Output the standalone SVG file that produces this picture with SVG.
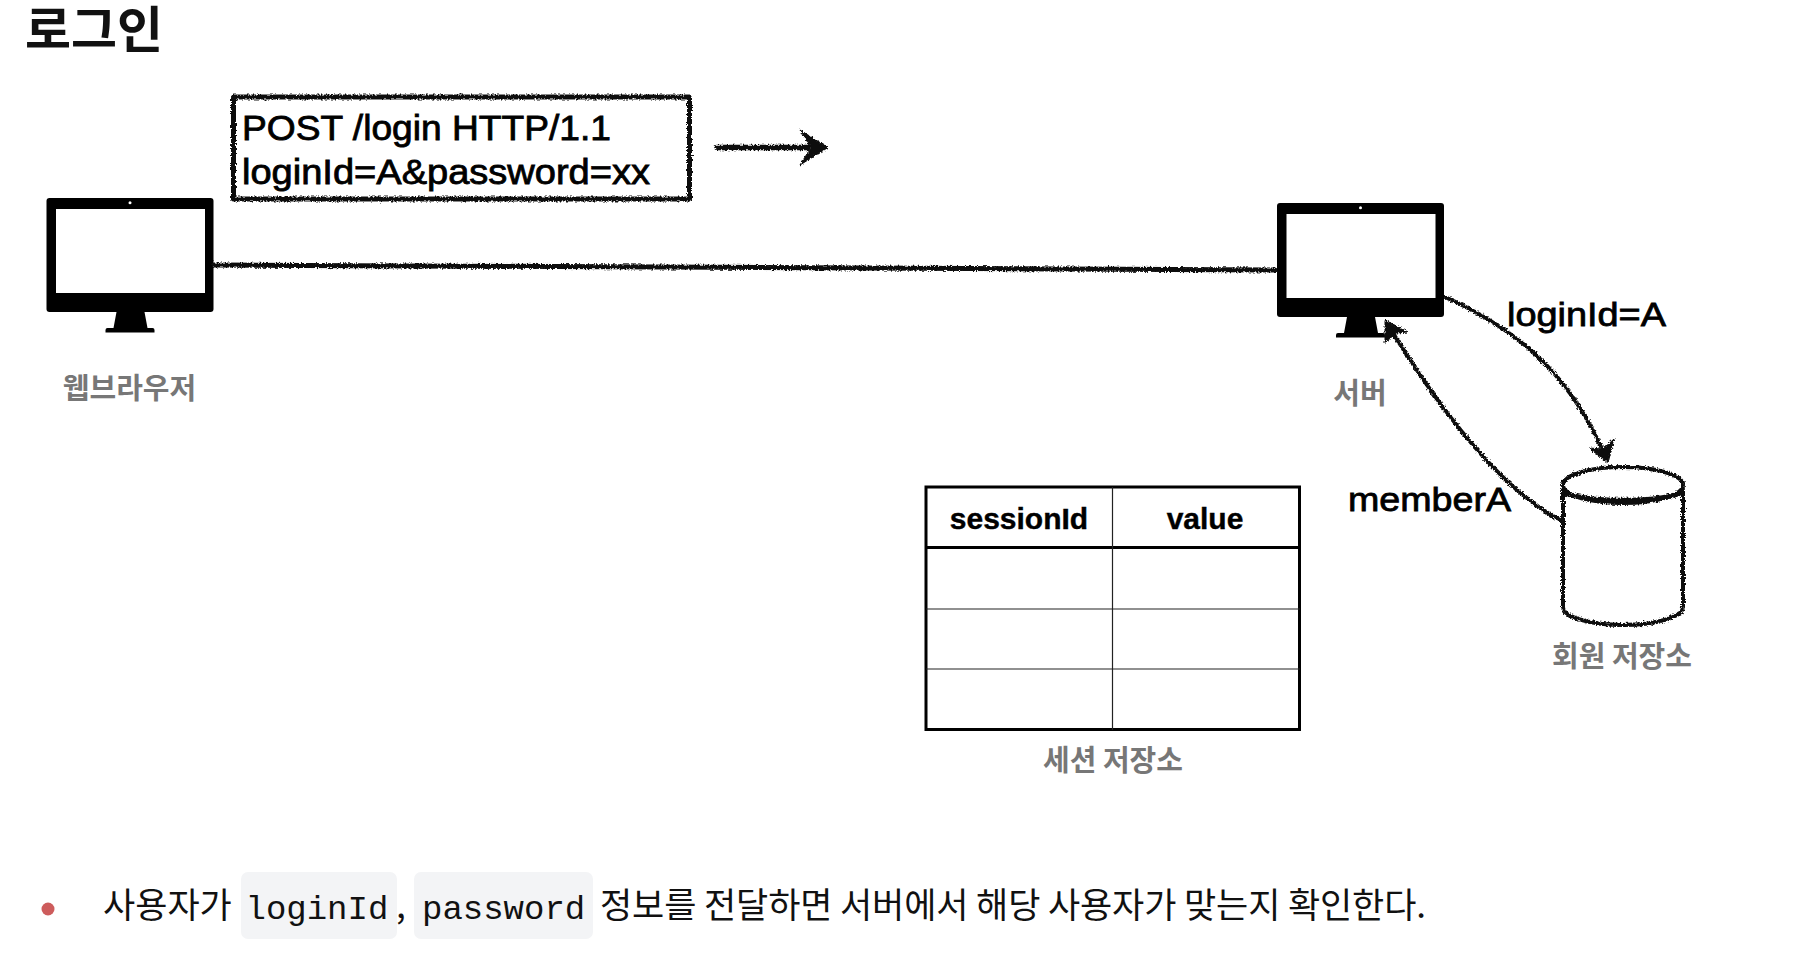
<svg xmlns="http://www.w3.org/2000/svg" width="1796" height="974" viewBox="0 0 1796 974">
<style>
.ko{font-family:"Noto Sans CJK KR","Noto Sans",sans-serif}
.lat{font-family:"Liberation Sans",Arial,sans-serif;fill:#000;stroke:#000;stroke-width:.8}
.cap{font-family:"Noto Sans CJK KR",sans-serif;font-weight:700;font-size:29px;fill:#777;text-anchor:middle}
.body{font-family:"Noto Sans CJK KR",sans-serif;font-size:35px;fill:#111}
.mono{font-family:"Liberation Mono",monospace;font-size:34px;fill:#111}
.chip{fill:#f3f4f6}
.sk{fill:none;stroke:#111;stroke-linecap:round;stroke-linejoin:round}
.hd{fill:#111;stroke:#111;stroke-width:1}
.th{font-family:"Liberation Sans",Arial,sans-serif;font-weight:700;font-size:30px;text-anchor:middle;fill:#000;stroke:#000;stroke-width:.4}
</style>
<defs>
<filter id="rough" filterUnits="userSpaceOnUse" x="0" y="0" width="1796" height="974">
<feTurbulence type="fractalNoise" baseFrequency="0.6" numOctaves="2" seed="3" result="n"/>
<feDisplacementMap in="SourceGraphic" in2="n" scale="4.500" xChannelSelector="R" yChannelSelector="G"/>
</filter>
<g id="monitor">
<rect x="0" y="0" width="167" height="114" rx="3" fill="#000"/>
<rect x="9.500" y="11" width="149" height="84" fill="#fff"/>
<circle cx="83.500" cy="4.800" r="1.500" fill="#fff"/>
<path d="M70 114H98L101 130H106Q108 130 108 132V134.500H59V132Q59 130 61 130H67Z" fill="#000"/>
</g>
</defs>
<rect width="1796" height="974" fill="#fff"/>

<text id="title" class="ko" x="25" y="48" font-size="50" font-weight="700" fill="#111">로그인</text>

<g id="request-label">
<rect x="233.500" y="97" width="456" height="102" class="sk" stroke-width="5" filter="url(#rough)"/>
<text class="lat" font-size="35" x="242" y="140" textLength="369" lengthAdjust="spacingAndGlyphs">POST /login HTTP/1.1</text>
<text class="lat" font-size="35" x="242" y="184" textLength="408" lengthAdjust="spacingAndGlyphs">loginId=A&amp;password=xx</text>
</g>

<g id="browser"><use href="#monitor" x="46.500" y="198"/><text class="cap" x="129.500" y="399">웹브라우저</text></g>
<g id="server"><use href="#monitor" x="1277" y="203"/><text class="cap" x="1360" y="404">서버</text></g>

<g id="member-store">
<g filter="url(#rough)">
<ellipse cx="1623" cy="485" rx="60" ry="18" class="sk" stroke-width="4"/>
<path d="M1563 490V607C1563 617 1590 625 1623 625S1683 617 1683 607V490" class="sk" stroke-width="4"/>
<path d="M1564 492C1580 503 1666 503 1682 492" class="sk" stroke-width="5"/>
</g>
<text class="cap" x="1622" y="667">회원 저장소</text>
</g>

<g id="session-table">
<rect x="926" y="487" width="373.500" height="242.500" fill="#fff" stroke="#000" stroke-width="3"/>
<path d="M926 547.500H1300" stroke="#000" stroke-width="3" fill="none"/>
<path d="M926 609H1300M926 669H1300M1112.500 487V730" stroke="#222" stroke-width="1.200" fill="none"/>
<text class="th" x="1019" y="528.500">sessionId</text>
<text class="th" x="1205" y="528.500">value</text>
<text class="cap" x="1113" y="771">세션 저장소</text>
</g>

<g id="connectors">
<g filter="url(#rough)">
<path d="M717 147.500H808" class="sk" stroke-width="5.500"/>
<path d="M800 130L828 147.500L800 165L811 147.500Z" class="hd"/>
<path d="M214 265L1275 270" class="sk" stroke-width="5"/>
<path d="M1445 297C1530 335 1575 385 1606 458" class="sk" stroke-width="4"/>
<path d="M1608 463L1589 448L1603 449L1614 439Z" class="hd"/>
<path d="M1562 521C1500 490 1440 410 1388 325" class="sk" stroke-width="4"/>
<path d="M1385 320L1408 332L1396 333L1385 343Z" class="hd"/>
</g>
<text class="lat" font-size="34" x="1507" y="325.500" textLength="159" lengthAdjust="spacingAndGlyphs">loginId=A</text>
<text class="lat" font-size="34" x="1348" y="510.500" textLength="163" lengthAdjust="spacingAndGlyphs">memberA</text>
</g>

<g id="bullet-note">
<circle cx="48" cy="909" r="6.500" fill="#cd5c5c"/>
<text class="body" x="103" y="918">사용자가</text>
<rect class="chip" x="241" y="872" width="156" height="67" rx="7"/>
<text class="mono" x="245.500" y="919">loginId</text>
<text class="body" x="396" y="918">,</text>
<rect class="chip" x="414" y="872" width="179" height="67" rx="7"/>
<text class="mono" x="422" y="919">password</text>
<text class="body" x="600" y="918" textLength="826">정보를 전달하면 서버에서 해당 사용자가 맞는지 확인한다.</text>
</g>
</svg>
